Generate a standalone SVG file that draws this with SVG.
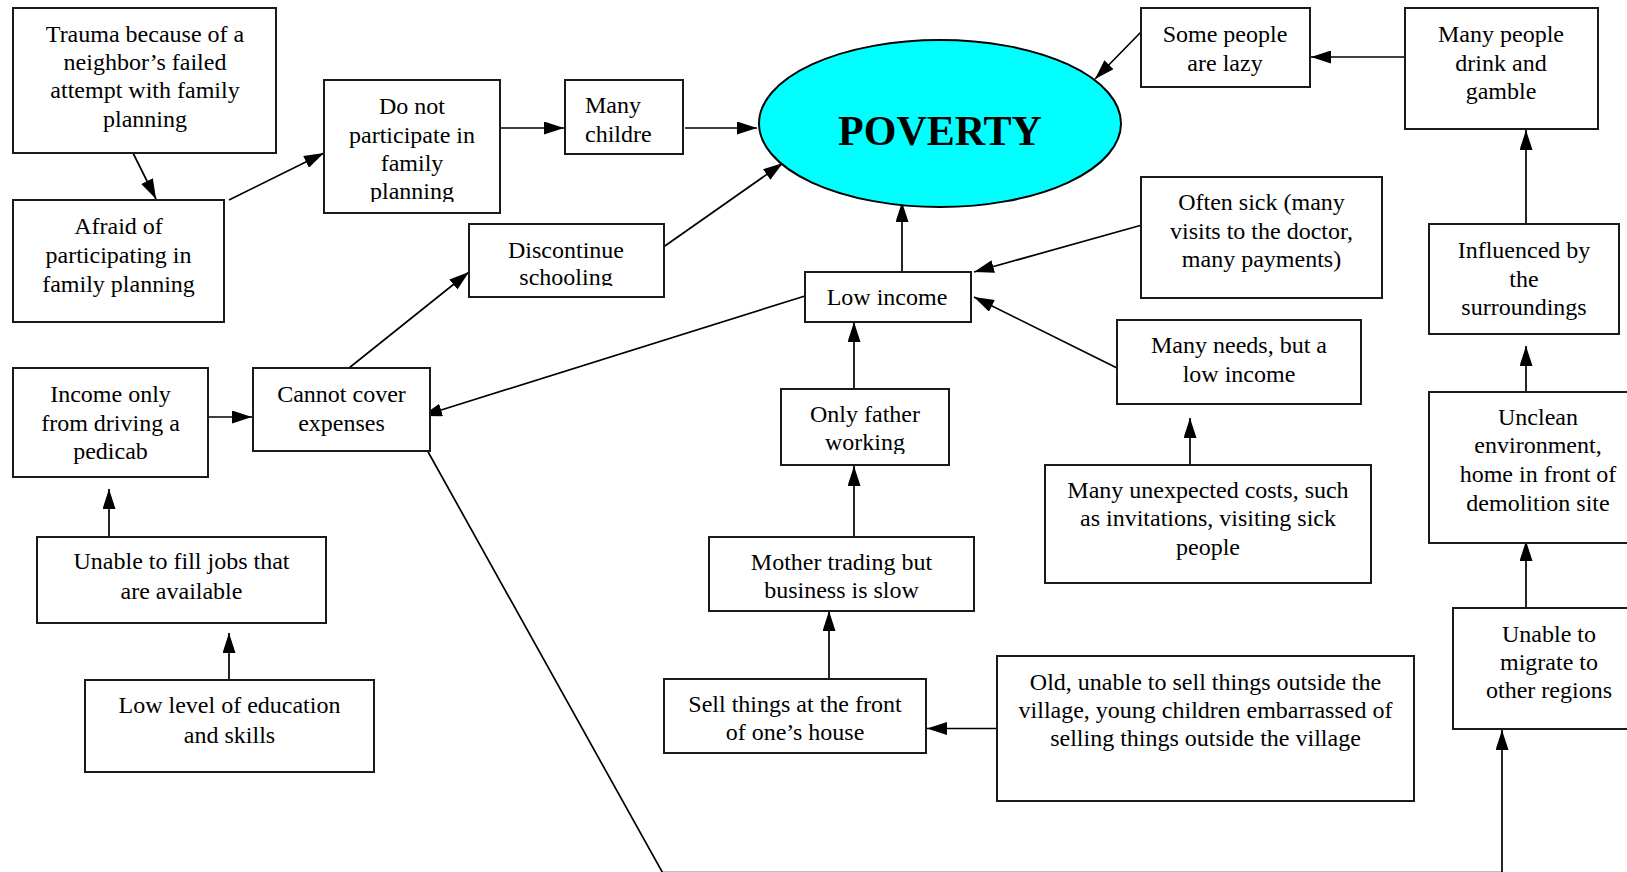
<svg xmlns="http://www.w3.org/2000/svg" width="1627" height="872" viewBox="0 0 1627 872">
<style>
.box{fill:#fff;stroke:#1a1a1a;stroke-width:2}
.t{font-family:"Liberation Serif","Times New Roman",serif;font-size:24px;fill:#000;text-anchor:middle}
.c line,.c path{stroke:#000;stroke-width:1.7;fill:none;marker-end:url(#ah)}
</style>
<defs>
<marker id="ah" markerUnits="userSpaceOnUse" markerWidth="20" markerHeight="13" refX="20" refY="6.5" orient="auto">
<path d="M0,0 L20,6.5 L0,13 z" fill="#000"/>
</marker>
<clipPath id="clipDo"><rect x="324" y="80" width="176" height="122"/></clipPath>
<clipPath id="clipDis"><rect x="469" y="224" width="195" height="62"/></clipPath>
<clipPath id="clipOnly"><rect x="781" y="389" width="168" height="65"/></clipPath>
</defs>
<rect width="1627" height="872" fill="#fff"/>

<g class="c" id="connectors">
<line x1="133" y1="153" x2="156" y2="199"/>
<line x1="229" y1="200" x2="324" y2="153"/>
<line x1="493" y1="128" x2="564" y2="128"/>
<line x1="685" y1="128" x2="757" y2="128"/>
<line x1="662" y1="248" x2="783" y2="163"/>
<line x1="902" y1="272" x2="902" y2="202"/>
<line x1="1141" y1="32" x2="1095" y2="79"/>
<line x1="1405" y1="57" x2="1311" y2="57"/>
<line x1="1526" y1="224" x2="1526" y2="130"/>
<line x1="1142" y1="225" x2="974" y2="272"/>
<line x1="1117" y1="368" x2="974" y2="297"/>
<line x1="805" y1="296" x2="422" y2="416"/>
<line x1="349" y1="368" x2="469" y2="272"/>
<line x1="204" y1="417" x2="252" y2="417"/>
<line x1="109" y1="537" x2="109" y2="489"/>
<line x1="229" y1="680" x2="229" y2="633"/>
<line x1="854" y1="392" x2="854" y2="322"/>
<line x1="854" y1="537" x2="854" y2="466"/>
<line x1="829" y1="679" x2="829" y2="611"/>
<line x1="997" y1="728.5" x2="927" y2="728.5"/>
<line x1="1190" y1="465" x2="1190" y2="418"/>
<line x1="1526" y1="392" x2="1526" y2="346"/>
<line x1="1526" y1="608" x2="1526" y2="541"/>
<path d="M422,441 L662.5,872.5 L1502,872.5 L1502,730"/>
</g>

<g id="n-trauma">
<rect class="box" x="13" y="8" width="263" height="145"/>
<text class="t" x="145" y="42">Trauma because of a</text>
<text class="t" x="145" y="70">neighbor’s failed</text>
<text class="t" x="145" y="98">attempt with family</text>
<text class="t" x="145" y="127">planning</text>
</g>
<g id="n-afraid">
<rect class="box" x="13" y="200" width="211" height="122"/>
<text class="t" x="118.5" y="234">Afraid of</text>
<text class="t" x="118.5" y="263">participating in</text>
<text class="t" x="118.5" y="292">family planning</text>
</g>
<g id="n-donot">
<rect class="box" x="324" y="80" width="176" height="133"/>
<g clip-path="url(#clipDo)">
<text class="t" x="412" y="114">Do not</text>
<text class="t" x="412" y="143">participate in</text>
<text class="t" x="412" y="171">family</text>
<text class="t" x="412" y="199">planning</text>
</g>
</g>
<g id="n-manychildren">
<rect class="box" x="565" y="80" width="118" height="74"/>
<text class="t" x="585" y="113" style="text-anchor:start">Many</text>
<text class="t" x="585" y="142" style="text-anchor:start">childre</text>
</g>
<g id="n-poverty">
<ellipse cx="940" cy="123.5" rx="181" ry="83.5" fill="#00ffff" stroke="#000" stroke-width="2"/>
<text class="t" x="940" y="145" style="font-size:42px;font-weight:bold">POVERTY</text>
</g>
<g id="n-discontinue">
<rect class="box" x="469" y="224" width="195" height="73"/>
<g clip-path="url(#clipDis)">
<text class="t" x="566" y="258">Discontinue</text>
<text class="t" x="566" y="285">schooling</text>
</g>
</g>
<g id="n-lowincome">
<rect class="box" x="805" y="272" width="166" height="50"/>
<text class="t" x="887" y="305">Low income</text>
</g>
<g id="n-lazy">
<rect class="box" x="1141" y="8" width="169" height="79"/>
<text class="t" x="1225" y="42">Some people</text>
<text class="t" x="1225" y="71">are lazy</text>
</g>
<g id="n-drink">
<rect class="box" x="1405" y="8" width="193" height="121"/>
<text class="t" x="1501" y="42">Many people</text>
<text class="t" x="1501" y="71">drink and</text>
<text class="t" x="1501" y="99">gamble</text>
</g>
<g id="n-sick">
<rect class="box" x="1141" y="177" width="241" height="121"/>
<text class="t" x="1261.5" y="210">Often sick (many</text>
<text class="t" x="1261.5" y="239">visits to the doctor,</text>
<text class="t" x="1261.5" y="267">many payments)</text>
</g>
<g id="n-influenced">
<rect class="box" x="1429" y="224" width="190" height="110"/>
<text class="t" x="1524" y="258">Influenced by</text>
<text class="t" x="1524" y="287">the</text>
<text class="t" x="1524" y="315">surroundings</text>
</g>
<g id="n-needs">
<rect class="box" x="1117" y="320" width="244" height="84"/>
<text class="t" x="1239" y="353">Many needs, but a</text>
<text class="t" x="1239" y="382">low income</text>
</g>
<g id="n-pedicab">
<rect class="box" x="13" y="368" width="195" height="109"/>
<text class="t" x="110.5" y="402">Income only</text>
<text class="t" x="110.5" y="431">from driving a</text>
<text class="t" x="110.5" y="459">pedicab</text>
</g>
<g id="n-cannot">
<rect class="box" x="253" y="368" width="177" height="83"/>
<text class="t" x="341.5" y="402">Cannot cover</text>
<text class="t" x="341.5" y="431">expenses</text>
</g>
<g id="n-father">
<rect class="box" x="781" y="389" width="168" height="76"/>
<g clip-path="url(#clipOnly)">
<text class="t" x="865" y="422">Only father</text>
<text class="t" x="865" y="450">working</text>
</g>
</g>
<g id="n-unclean">
<rect class="box" x="1429" y="392" width="218" height="151"/>
<text class="t" x="1538" y="425">Unclean</text>
<text class="t" x="1538" y="453">environment,</text>
<text class="t" x="1538" y="482">home in front of</text>
<text class="t" x="1538" y="511">demolition site</text>
</g>
<g id="n-unexpected">
<rect class="box" x="1045" y="465" width="326" height="118"/>
<text class="t" x="1208" y="498">Many unexpected costs, such</text>
<text class="t" x="1208" y="526">as invitations, visiting sick</text>
<text class="t" x="1208" y="555">people</text>
</g>
<g id="n-jobs">
<rect class="box" x="37" y="537" width="289" height="86"/>
<text class="t" x="181.5" y="569">Unable to fill jobs that</text>
<text class="t" x="181.5" y="599">are available</text>
</g>
<g id="n-mother">
<rect class="box" x="709" y="537" width="265" height="74"/>
<text class="t" x="841.5" y="569.5">Mother trading but</text>
<text class="t" x="841.5" y="598">business is slow</text>
</g>
<g id="n-migrate">
<rect class="box" x="1453" y="608" width="192" height="121"/>
<text class="t" x="1549" y="642">Unable to</text>
<text class="t" x="1549" y="670">migrate to</text>
<text class="t" x="1549" y="698">other regions</text>
</g>
<g id="n-old">
<rect class="box" x="997" y="656" width="417" height="145"/>
<text class="t" x="1205.5" y="689.5">Old, unable to sell things outside the</text>
<text class="t" x="1205.5" y="718">village, young children embarrassed of</text>
<text class="t" x="1205.5" y="746">selling things outside the village</text>
</g>
<g id="n-sell">
<rect class="box" x="664" y="679" width="262" height="74"/>
<text class="t" x="795" y="712">Sell things at the front</text>
<text class="t" x="795" y="740">of one’s house</text>
</g>
<g id="n-education">
<rect class="box" x="85" y="680" width="289" height="92"/>
<text class="t" x="229.5" y="713">Low level of education</text>
<text class="t" x="229.5" y="743">and skills</text>
</g>
</svg>
